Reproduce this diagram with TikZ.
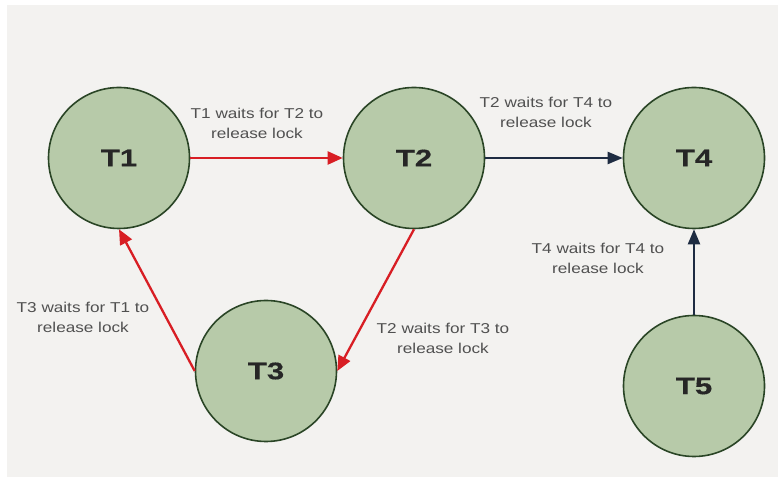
\documentclass[tikz,border=0pt]{standalone}
\usepackage{fontspec}
\setmainfont{Liberation Sans}
\newfontfamily\widesans[FakeStretch=1.2]{Liberation Sans}
\newfontfamily\widesansbold[FakeStretch=1.3,FakeBold=0.4]{Liberation Sans Bold}
\usetikzlibrary{arrows.meta}
\definecolor{pagebg}{HTML}{F3F2F0}
\definecolor{nodefill}{HTML}{B7CAA9}
\definecolor{nodeline}{HTML}{2A4526}
\definecolor{waitred}{HTML}{D81E24}
\definecolor{waitnavy}{HTML}{1E2C42}
\definecolor{labelgray}{HTML}{505050}
\tikzset{
  x=1pt, y=1pt,
  txn/.style={circle, draw=nodeline, line width=1.6pt, fill=nodefill,
    minimum size=141pt, inner sep=0pt,
    font=\widesansbold\fontsize{24}{28}\selectfont, text=black!85},
  redwait/.style={draw=waitred, line width=2.3pt,
    -{Triangle[length=15pt,width=13pt,fill=waitred]}},
  navywait/.style={draw=waitnavy, line width=2.2pt,
    -{Triangle[length=15pt,width=12pt,fill=waitnavy]}},
  note/.style={align=center, font=\widesans\fontsize{14.3}{20}\selectfont,
    text=labelgray}
}
\begin{document}
\begin{tikzpicture}
  % canvas with its thin white rim on the top and left
  \fill[white] (0,0) rectangle (778,478);
  \fill[pagebg] (7,1) rectangle (778,473);
  \useasboundingbox (0,0) rectangle (778,478);

  % transactions
  \node[txn] (t1) at (119,320) {T1};
  \node[txn] (t2) at (414,320) {T2};
  \node[txn] (t4) at (694,320) {T4};
  \node[txn] (t3) at (266,107) {T3};
  \node[txn] (t5) at (694,92)  {T5};

  % wait-for edges
  \draw[redwait]  (t1.east)  -- (t2.west);
  \draw[navywait] (t2.east)  -- (t4.west);
  \draw[redwait]  (t2.south) -- (t3.east);
  \draw[redwait]  (t3.west)  -- (t1.south);
  \draw[navywait] (t5.north) -- (t4.south);

  % edge captions
  \node[note] (n12) at (257,355) {T1 waits for T2 to\\release lock};
  \node[note] (n24) at (546,366) {T2 waits for T4 to\\release lock};
  \node[note] (n31) at (83,161)  {T3 waits for T1 to\\release lock};
  \node[note] (n23) at (443,140) {T2 waits for T3 to\\release lock};
  \node[note] (n54) at (598,220) {T4 waits for T4 to\\release lock};
\end{tikzpicture}
\end{document}
